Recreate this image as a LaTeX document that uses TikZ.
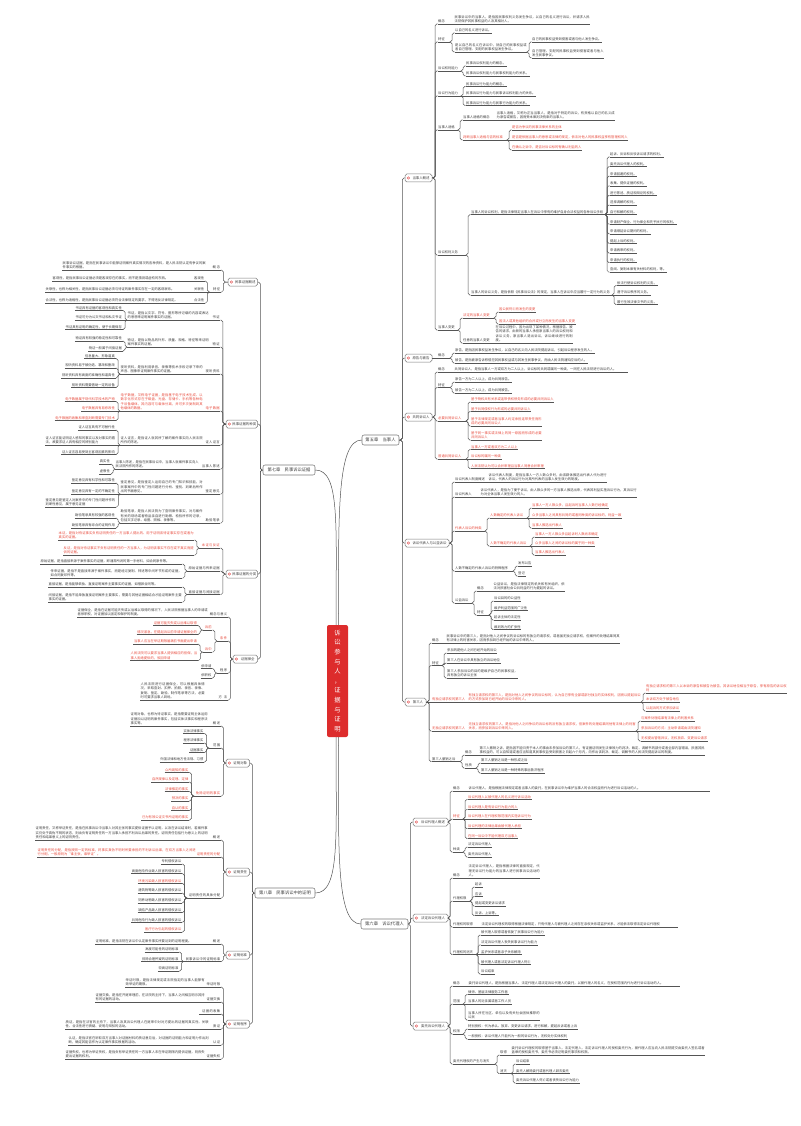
\documentclass[tikz,border=0pt]{standalone}
\usepackage{fontspec}
\setmainfont{Noto Sans CJK SC}
\XeTeXlinebreaklocale "zh"
\XeTeXlinebreakskip=0pt plus 1pt
\setlength\parindent{0pt}
\tolerance=2000
\emergencystretch=3pt
\definecolor{txt}{HTML}{3C3C3C}
\definecolor{rd}{HTML}{E84A3C}
\definecolor{lc}{HTML}{555555}
\definecolor{bd}{HTML}{7A7A7A}
\definecolor{ctrred}{HTML}{DD2C2C}
\newcommand\mmf{\fontsize{3.3}{4.5}\selectfont}
\tikzset{
 nd/.style={anchor=south west, inner xsep=0.5pt, inner ysep=0.7pt, font=\mmf},
 ul/.style={draw=lc, line width=0.5pt},
 conn/.style={draw=lc, line width=0.5pt},
 secbox/.style={draw=bd, fill=white, rounded corners=1.8pt, line width=0.5pt, minimum height=8pt, inner sep=0.5pt, font=\fontsize{3.4}{4}\selectfont, text=txt},
 chbox/.style={draw=bd, fill=white, rounded corners=2pt, line width=0.55pt, minimum height=10pt, inner sep=1pt, font=\fontsize{4.3}{5}\selectfont, text=txt},
}
% fixed extent, justified text
\newcommand\mmN[6][txt]{\pgfmathsetmacro\mmw{#4-#3-1}\node[nd,text=#1,text width=\mmw pt,align=justify] (#2) at (#3,#5) {#6};\draw[ul] (#2.south west) -- (#2.south east);}
% fixed extent, right aligned
\newcommand\mmM[6][txt]{\pgfmathsetmacro\mmw{#4-#3-1}\node[nd,text=#1,text width=\mmw pt,align=right] (#2) at (#3,#5) {#6};\draw[ul] (#2.south west) -- (#2.south east);}
% auto width from left x
\newcommand\mmP[5][txt]{\node[nd,text=#1] (#2) at (#3,#4) {#5};\draw[ul] (#2.south west) -- (#2.south east);}
% auto width ending at right x
\newcommand\mmQ[5][txt]{\node[nd,text=#1,anchor=south east] (#2) at (#3,#4) {#5};\draw[ul] (#2.south west) -- (#2.south east);}
% section box with icon
\newcommand\mmB[5]{\pgfmathsetmacro\mmw{#3-#2}\pgfmathsetmacro\mmx{(#2+#3)/2}\node[secbox,minimum width=\mmw pt] (#1) at (\mmx,#4) {\hspace*{5pt}#5};\fill[ctrred] ([xshift=3.6pt]#1.west) circle (1.5pt);\draw[white,line width=0.35pt] ([xshift=3.6pt]#1.west) ++(-0.65,-0.65) -- ++(1.3,1.3) ++(-1.3,0) -- ++(1.3,-1.3);}
% connector
\newcommand\mmC[2]{%
  \path (#1); \pgfgetlastxy{\mmax}{\mmay}%
  \path (#2); \pgfgetlastxy{\mmbx}{\mmby}%
  \pgfmathsetmacro\mmdy{abs(\mmay-\mmby)}%
  \pgfmathsetmacro\mmdx{(\mmbx>\mmax) ? -2.5 : 2.5}%
  \ifdim\mmdy pt<0.3pt\relax
    \draw[conn] (#1) -- (#2);%
  \else
    \draw[conn,rounded corners=1.8pt] (#1) -| ([xshift=\mmdx pt]#2) -- (#2);%
  \fi}
\newcommand\mmhr[2]{\foreach \mmc in {#2}{\mmC{#1.south east}{\mmc.south west}}}
\newcommand\mmhl[2]{\foreach \mmc in {#2}{\mmC{#1.south west}{\mmc.south east}}}
\newcommand\mmsr[2]{\foreach \mmc in {#2}{\mmC{#1.east}{\mmc.south west}}}
\newcommand\mmsl[2]{\foreach \mmc in {#2}{\mmC{#1.west}{\mmc.south east}}}
\newcommand\mmcr[2]{\foreach \mmc in {#2}{\mmC{#1.east}{\mmc.west}}}
\newcommand\mmcl[2]{\foreach \mmc in {#2}{\mmC{#1.west}{\mmc.east}}}

\begin{document}
\begin{tikzpicture}[x=1pt,y=-1pt]
\fill[white] (0,0) rectangle (800,1126);
\useasboundingbox (0,0) rectangle (800,1126);

% ===== centre and chapters =====
\node[fill=ctrred, rounded corners=2pt, minimum width=21pt, minimum height=112pt, inner sep=0pt, text=white, font=\fontsize{6.3}{9.6}\selectfont, align=center] (ctr) at (337.5,681) {诉\\讼\\参\\与\\人\\，\\证\\据\\与\\证\\明};
\node[chbox,minimum width=37pt] (ch5) at (380.5,440) {第五章\quad 当事人};
\node[chbox,minimum width=47pt] (ch6) at (384.5,924) {第六章\quad 诉讼代理人};
\node[chbox,minimum width=52pt] (ch7) at (289,470) {第七章\quad 民事诉讼证据};
\node[chbox,minimum width=60pt] (ch8) at (285,893) {第八章\quad 民事诉讼中的证明};
\draw[conn] ([xshift=1pt]ctr.north) .. controls +(0,-110) and +(-25,0) .. (ch5.west);
\draw[conn] ([xshift=-1.5pt]ctr.north) .. controls +(0,-100) and +(25,0) .. (ch7.east);
\draw[conn] ([xshift=-1.5pt]ctr.south) .. controls +(0,100) and +(25,0) .. (ch8.east);
\draw[conn] ([xshift=1pt]ctr.south) .. controls +(0,110) and +(-25,0) .. (ch6.west);

% ===== 第五章 =====
\mmB{s51}{405}{432}{178}{当事人概述}
\mmB{s52}{405}{432}{358}{原告与被告}
\mmB{s53}{405}{432}{417}{共同诉讼人}
\mmB{s54}{405}{449}{543}{诉讼代表人与公益诉讼}
\mmB{s55}{405}{426}{702}{第三人}

\mmN{a1}{437.5}{454}{24}{概念}
\mmN{a1t}{454}{590}{24}{民事诉讼中的当事人，是指因民事权利义务发生争议，以自己的名义进行诉讼，并请求人民法院保护其民事权益的人及其相对人。}
\mmN{a2}{437.5}{450}{42}{特征}
\mmP{a21}{454.5}{33}{以自己的名义进行诉讼。}
\mmN{a22}{454.5}{527}{52}{是以自己的名义在诉讼中，就自己的民事权益或者自己管理、支配的民事权益发生争议。}
\mmP{a221}{531.5}{42}{自己的民事权益受到侵害或者与他人发生争议。}
\mmN{a222}{531.5}{604}{58}{自己管理、支配的民事权益受到侵害或者与他人发生民事争议。}
\mmN{a3}{437.5}{461}{71}{诉讼权利能力}
\mmP{a31}{465.5}{66}{民事诉讼权利能力的概念。}
\mmP{a32}{465.5}{76}{民事诉讼权利能力与民事权利能力的关系。}
\mmN{a4}{437.5}{461}{96}{诉讼行为能力}
\mmP{a41}{465.5}{86.5}{民事诉讼行为能力的概念。}
\mmP{a42}{465.5}{96}{民事诉讼行为能力与民事诉讼权利能力的关系。}
\mmP{a43}{465.5}{105.5}{民事诉讼行为能力与民事行为能力的关系。}
\mmN{a5}{437.5}{458}{130}{当事人适格}
\mmN{a51}{462.5}{496}{120}{当事人适格的概念}
\mmN{a51t}{496}{615}{120}{当事人适格，又称为正当当事人，是指对于特定的诉讼，有资格以自己的名义成为原告或被告，因而受本案判决拘束的当事人。}
\mmN[rd]{a52}{462.5}{507}{140}{判断当事人适格与否的标准}
\mmP[rd]{a521}{511.5}{130}{是否为争议的民事法律关系的主体}
\mmP[rd]{a522}{511.5}{140}{是否是依据当事人的意思或法律的规定，依法对他人的民事权益享有管理权的人}
\mmP[rd]{a523}{511.5}{150}{在确认之诉中，是否对诉讼标的有确认利益的人}
\mmN{a6}{437.5}{466}{255}{诉讼权利义务}
\mmN{a61}{470.5}{605}{214.6}{当事人的诉讼权利，是指法律规定当事人在诉讼中享有的维护自身合法权益的各种诉讼手段}
\mmP{a611}{609.5}{157}{起诉、反诉和反驳诉讼请求的权利。}
\mmP{a612}{609.5}{166.6}{委托诉讼代理人的权利。}
\mmP{a613}{609.5}{176.2}{申请回避的权利。}
\mmP{a614}{609.5}{185.8}{收集、提供证据的权利。}
\mmP{a615}{609.5}{195.4}{进行陈述、质证和辩论的权利。}
\mmP{a616}{609.5}{205}{选择调解的权利。}
\mmP{a617}{609.5}{214.6}{自行和解的权利。}
\mmP{a618}{609.5}{224.2}{申请财产保全、行为保全和先予执行的权利。}
\mmP{a619}{609.5}{233.8}{申请顺延诉讼期间的权利。}
\mmP{a6110}{609.5}{243.4}{提起上诉的权利。}
\mmP{a6111}{609.5}{253}{申请再审的权利。}
\mmP{a6112}{609.5}{262.6}{申请执行的权利。}
\mmP{a6113}{609.5}{272.2}{查阅、复制本案有关材料的权利，等。}
\mmN{a62}{470.5}{612}{295}{当事人的诉讼义务，是指依照《民事诉讼法》的规定，当事人在诉讼中应当履行一定行为的义务}
\mmP{a621}{616.5}{285.5}{依法行使诉讼权利的义务。}
\mmP{a622}{616.5}{295}{遵守诉讼秩序的义务。}
\mmP{a623}{616.5}{304.5}{履行生效法律文书的义务。}
\mmN{a7}{437.5}{458}{330}{当事人变更}
\mmN[rd]{a71}{462.5}{494}{318}{法定的当事人变更}
\mmP[rd]{a711}{498.5}{312}{因公民死亡而发生的变更}
\mmP[rd]{a712}{498.5}{324}{因法人或其他组织的合并或分立而发生的当事人变更}
\mmN{a72}{462.5}{495}{343}{任意的当事人变更}
\mmN{a72t}{495}{573}{343}{在诉讼过程中，因为出现了某种情况，根据原告、被告的请求，由新的当事人承担原当事人的诉讼权利和诉讼义务，原当事人退出诉讼，诉讼继续进行的制度。}

\mmN{b1}{437.5}{450}{358}{概念}
\mmP{b11}{454.5}{353}{原告，是指因民事权益发生争议，以自己的名义向人民法院提起诉讼，引起诉讼程序发生的人。}
\mmP{b12}{454.5}{363}{被告，是指被原告诉称侵犯其民事权益或与其发生民事争议，而由人民法院通知应诉的人。}

\mmN{c1}{437.5}{454}{372}{概念}
\mmN{c1t}{454}{628}{372}{共同诉讼人，是指当事人一方或双方为二人以上，诉讼标的共同或属同一种类，一同在人民法院进行诉讼的人。}
\mmN{c2}{437.5}{450}{387.5}{特征}
\mmP{c21}{454.5}{382}{原告一方为二人以上，成为共同原告。}
\mmP{c22}{454.5}{393}{被告一方为二人以上，成为共同被告。}
\mmN[rd]{c3}{437.5}{466}{421}{必要共同诉讼人}
\mmP[rd]{c31}{470.5}{402}{基于物权共有关系或连带债权债务形成的必要共同诉讼人}
\mmP[rd]{c32}{470.5}{411.5}{基于共同侵权行为形成的必要共同诉讼人}
\mmN[rd]{c33}{470.5}{542}{426}{基于法律规定或者当事人约定承担连带责任而形成的必要共同诉讼人}
\mmN[rd]{c34}{470.5}{542}{440}{基于同一事实或法律上的同一原因而形成的必要共同诉讼人}
\mmN[rd]{c4}{437.5}{466}{459}{普通共同诉讼人}
\mmP[rd]{c41}{470.5}{449.5}{当事人一方或者双方为二人以上}
\mmP[rd]{c42}{470.5}{459}{诉讼标的属同一种类}
\mmP[rd]{c43}{470.5}{468.5}{人民法院认为可以合并审理且当事人同意合并审理}

\mmN{d1}{454.5}{488}{482}{诉讼代表人制度概述}
\mmN{d1t}{488}{607}{482}{诉讼代表人制度，是指当事人一方人数众多时，由该群体推选出代表人代为进行诉讼，代表人的诉讼行为对其所代表的当事人发生效力的制度。}
\mmN{d2}{454.5}{480}{497}{诉讼代表人}
\mmN{d2t}{480}{637}{497}{诉讼代表人，是指为了便于诉讼，由人数众多的一方当事人推选出来，代表其利益实施诉讼行为，其诉讼行为对全体当事人发生效力的人。}
\mmN[rd]{d3}{454.5}{485}{531}{代表人诉讼的种类}
\mmN[rd]{d31}{489.5}{527}{518}{人数确定的代表人诉讼}
\mmP[rd]{d311}{531.5}{508}{当事人一方人数众多，且起诉时当事人人数已经确定}
\mmP[rd]{d312}{531.5}{518}{众多当事人之间具有共同的或者同种类的诉讼标的，利益一致}
\mmP[rd]{d313}{531.5}{528}{当事人推选出代表人}
\mmN[rd]{d32}{489.5}{530}{546}{人数不确定的代表人诉讼}
\mmP[rd]{d321}{534.5}{537}{当事人一方人数众多且起诉时人数尚未确定}
\mmP[rd]{d322}{534.5}{546}{众多当事人之间的诉讼标的属于同一种类}
\mmP[rd]{d323}{534.5}{555}{当事人推选出代表人}
\mmN{d4}{454.5}{513}{571}{人数不确定的代表人诉讼的特殊程序}
\mmP{d41}{517.5}{566}{发布公告}
\mmP{d42}{517.5}{576}{登记}
\mmN{d5}{454.5}{472}{603}{公益诉讼}
\mmN{d51}{476.5}{493}{591}{概念}
\mmN{d51t}{493}{565}{591}{公益诉讼，是指法律规定的机关和有关组织，依法对损害社会公共利益的行为提起的诉讼。}
\mmN{d52}{476.5}{489}{615}{特征}
\mmP{d521}{493.5}{601}{诉讼目的的公益性}
\mmP{d522}{493.5}{610.5}{维护利益范围的广泛性}
\mmP{d523}{493.5}{620}{起诉主体的法定性}
\mmP{d524}{493.5}{629.5}{裁判效力的扩张性}

\mmN{f1}{431.5}{446}{643}{概念}
\mmN{f1t}{446}{620}{643}{民事诉讼中的第三人，是指对他人之间争议的诉讼标的有独立的请求权，或者虽无独立请求权，但案件的处理结果同其有法律上的利害关系，因而参加到已经开始的诉讼中来的人。}
\mmN{f2}{431.5}{442}{665.5}{特征}
\mmP{f21}{446.5}{653}{参加的是他人之间已经开始的诉讼}
\mmP{f22}{446.5}{663}{第三人在诉讼中具有独立的诉讼地位}
\mmN{f23}{446.5}{518}{678}{第三人参加诉讼的目的是维护自己的民事权益，具有独立的诉讼主张}
\mmN[rd]{f3}{431.5}{468}{702}{有独立请求权的第三人}
\mmN[rd]{f3t}{468}{641}{702}{有独立请求权的第三人，是指对他人之间争议的诉讼标的，认为自己享有全部或部分独立的实体权利，因而以提起诉讼的方式参加到已经开始的诉讼中来的人。}
\mmN[rd]{f31}{645.5}{787}{693}{有独立请求权的第三人以本诉的原告和被告为被告，其诉讼地位相当于原告，享有原告的诉讼权利}
\mmP[rd]{f32}{645.5}{702}{本诉双方处于被告地位}
\mmP[rd]{f33}{645.5}{711}{以起诉的方式参加诉讼}
\mmN[rd]{f4}{431.5}{468}{731}{无独立请求权的第三人}
\mmN[rd]{f4t}{468}{636}{731}{无独立请求权的第三人，是指对他人之间争议的诉讼标的没有独立请求权，但案件的处理结果同他有法律上的利害关系，而参加到诉讼中来的人。}
\mmP[rd]{f41}{640.5}{721}{与案件处理结果有法律上的利害关系}
\mmP[rd]{f42}{640.5}{731}{参加诉讼的方式：主动申请或由法院通知}
\mmP[rd]{f43}{640.5}{741}{无权提出管辖异议，无权放弃、变更诉讼请求}
\mmN{f5}{431.5}{460}{761.5}{第三人撤销之诉}
\mmN{f51}{464.5}{479}{755}{概念}
\mmN{f51t}{479}{705}{755}{第三人撤销之诉，是指因不能归责于本人的事由未参加诉讼的第三人，有证据证明发生法律效力的判决、裁定、调解书的部分或者全部内容错误，损害其民事权益的，可以自知道或者应当知道其民事权益受到损害之日起六个月内，向作出该判决、裁定、调解书的人民法院提起诉讼的制度。}
\mmN{f52}{464.5}{476}{768}{性质}
\mmP{f521}{480.5}{763}{第三人撤销之诉是一种形成之诉}
\mmP{f522}{480.5}{773}{第三人撤销之诉是一种特殊的事后救济程序}

% ===== 第六章 =====
\mmB{s61}{413}{448}{822}{诉讼代理人概述}
\mmB{s62}{413}{448}{918}{法定诉讼代理人}
\mmB{s63}{413}{448}{1026}{委托诉讼代理人}

\mmN{g1}{452.5}{468}{791}{概念}
\mmN{g1t}{468}{710}{791}{诉讼代理人，是指根据法律规定或者当事人的委托，在民事诉讼中为维护当事人的合法权益而代为进行诉讼活动的人。}
\mmN[rd]{g2}{452.5}{463}{819}{特征}
\mmP[rd]{g21}{467.5}{799.5}{诉讼代理人以被代理人的名义进行诉讼活动}
\mmP[rd]{g22}{467.5}{809.3}{诉讼代理人是有诉讼行为能力的人}
\mmP[rd]{g23}{467.5}{819}{诉讼代理人在代理权限范围内实施诉讼行为}
\mmP[rd]{g24}{467.5}{828.7}{诉讼代理的法律后果由被代理人承担}
\mmP[rd]{g25}{467.5}{838.5}{在同一诉讼中不能代理双方当事人}
\mmN{g3}{452.5}{463}{852}{种类}
\mmP{g31}{467.5}{847}{法定诉讼代理人}
\mmP{g32}{467.5}{857}{委托诉讼代理人}

\mmN{h1}{452.5}{468}{878}{概念}
\mmN{h1t}{468}{540}{878}{法定诉讼代理人，是指根据法律的直接规定，代理无诉讼行为能力的当事人进行民事诉讼活动的人。}
\mmN{h2}{452.5}{470}{901}{代理权限}
\mmP{h21}{474.5}{887}{起诉}
\mmP{h22}{474.5}{896.5}{应诉}
\mmP{h23}{474.5}{906}{提起或变更诉讼请求}
\mmP{h24}{474.5}{915.5}{反诉、上诉等。}
\mmN{h3}{452.5}{481}{927}{代理权的取得}
\mmN{h3t}{481}{678}{927}{法定诉讼代理权的取得根据法律规定，只有代理人与被代理人之间存在亲权关系或监护关系，才能依法取得法定诉讼代理权}
\mmN{h4}{452.5}{476}{954.5}{代理权的消灭}
\mmP{h41}{480.5}{935}{被代理人取得或者恢复了民事诉讼行为能力}
\mmP{h42}{480.5}{944.8}{法定诉讼代理人丧失民事诉讼行为能力}
\mmP{h43}{480.5}{954.5}{监护关系或者亲子关系解除}
\mmP{h44}{480.5}{964.3}{被代理人或者法定诉讼代理人死亡}
\mmP{h45}{480.5}{974}{诉讼结束}

\mmN{i1}{452.5}{468}{986}{概念}
\mmN{i1t}{468}{680}{986}{委托诉讼代理人，是指根据当事人、法定代理人或法定诉讼代理人的委托，以被代理人的名义，在授权范围内代为进行诉讼活动的人。}
\mmN{i2}{452.5}{463}{1004}{范围}
\mmP{i21}{467.5}{994.5}{律师、基层法律服务工作者}
\mmP{i22}{467.5}{1004}{当事人的近亲属或者工作人员}
\mmN{i23}{467.5}{540}{1020}{当事人所在社区、单位以及有关社会团体推荐的公民}
\mmN{i3}{452.5}{463}{1034}{权限}
\mmP{i31}{467.5}{1029}{特别授权：代为承认、放弃、变更诉讼请求，进行和解，提起反诉或者上诉}
\mmP{i32}{467.5}{1039}{一般授权：诉讼代理人只能代为一般的诉讼行为，无权处分实体权利}
\mmN{i4}{452.5}{495}{1064}{委托代理权的产生与消灭}
\mmN{i41}{499.5}{511}{1055}{取得}
\mmN{i41t}{511}{705}{1055}{委托诉讼代理权的取得基于当事人、法定代理人、法定诉讼代理人的授权委托行为，被代理人应当向人民法院提交由委托人签名或者盖章的授权委托书，委托书必须记明委托事项和权限。}
\mmN{i42}{499.5}{511}{1073.5}{消灭}
\mmP{i421}{515.5}{1064}{诉讼结束}
\mmP{i422}{515.5}{1073.5}{委托人解除委托或者代理人辞去委托}
\mmP{i423}{515.5}{1083}{委托诉讼代理人死亡或者丧失诉讼行为能力}

% ===== 第七章 =====
\mmB{s71}{228}{257.5}{282}{民事证据概述}
\mmB{s72}{226}{257.5}{424}{民事证据的种类}
\mmB{s73}{226}{257.5}{574}{民事证据的分类}
\mmB{s74}{233}{257.5}{659}{证据保全}

\mmM{j1}{206}{220.5}{270}{概念}
\mmN{j1t}{62}{206}{270}{民事诉讼证据，是指在民事诉讼中能够证明案件真实情况的各种资料，是人民法院认定有争议的案件事实的根据。}
\mmM{j2}{209}{220.5}{292}{特征}
\mmM{j21}{193}{204.5}{281}{客观性}
\mmN{j21t}{52}{193}{281}{客观性，是指民事诉讼证据必须是客观存在的事实，而不是猜测或虚构的东西。}
\mmM{j22}{193}{204.5}{292}{关联性}
\mmN{j22t}{45}{193}{292}{关联性，也称为相关性，是指民事诉讼证据必须与待证的案件事实存在一定的客观联系。}
\mmM{j23}{193}{204.5}{303}{合法性}
\mmN{j23t}{45}{193}{303}{合法性，也称为适格性，是指民事诉讼证据必须符合法律规定的要求，不得违反法律规定。}

\mmM{k1}{209}{220}{320}{书证}
\mmN{k1t}{127}{209}{320}{书证，是指以文字、符号、图形等所记载的内容或表达的思想来证明案件事实的证据。}
\mmQ{k11}{122.5}{310.5}{书证具有证据的客观性和真实性}
\mmQ{k12}{122.5}{320}{书证可分为公文书证和私文书证}
\mmQ{k13}{122.5}{329.5}{书证具有证明的确定性，便于长期保存}
\mmM{k2}{209}{220}{347}{物证}
\mmN{k2t}{127}{209}{347}{物证，是指以物品的外形、质量、规格、特征等来证明案件事实的证据。}
\mmQ{k21}{122.5}{341}{物证具有较强的稳定性和可靠性}
\mmQ{k22}{122.5}{351}{物证一般属于间接证据}
\mmM{k3}{203}{220}{374}{视听资料}
\mmN{k3t}{120}{203}{374}{视听资料，是指利用录音、录像等技术手段记录下来的声音、图像来证明案件事实的证据。}
\mmQ{k31}{115.5}{358.5}{信息量大、形象逼真}
\mmQ{k32}{115.5}{368}{视听资料易于被伪造、篡改和删改}
\mmQ{k33}{115.5}{378}{视听资料具有高度的准确性和逼真性}
\mmQ{k34}{115.5}{387.5}{视听资料需要借助一定的设备}
\mmM[rd]{k4}{203}{220}{411}{电子数据}
\mmN[rd]{k4t}{120}{203}{411}{电子数据，又称电子证据，是指基于电子技术生成、以数字化形式存在于磁盘、光盘、存储卡、手机等各种电子设备载体，其内容可与载体分离，并可多次复制到其他载体的数据。}
\mmQ[rd]{k41}{115.5}{401.5}{电子数据属于现代科学技术的产物}
\mmQ[rd]{k42}{115.5}{411}{电子数据具有易修改性}
\mmQ[rd]{k43}{115.5}{420.5}{电子数据的收集和审查判断需要专门技术}
\mmM{k5}{203}{220}{445}{证人证言}
\mmN{k5t}{120}{203}{445}{证人证言，是指证人就其所了解的案件事实向人民法院所作的陈述。}
\mmQ{k51}{115.5}{430}{证人证言具有不可替代性}
\mmN{k52}{45}{115.5}{445}{证人证言能证明证人感知的事实以及对事实的看法，故要求证人具有相应的辨别能力}
\mmQ{k53}{115.5}{454.5}{证人证言容易受到主客观因素的影响}
\mmM{k6}{199}{220}{469}{当事人陈述}
\mmN{k6t}{115}{199}{469}{当事人陈述，是指在民事诉讼中，当事人就案件事实向人民法院所作的陈述。}
\mmQ{k61}{110.5}{464}{真实性}
\mmQ{k62}{110.5}{474}{虚假性}
\mmM{k7}{203}{220}{494}{鉴定意见}
\mmN{k7t}{120}{203}{494}{鉴定意见，是指鉴定人运用自己的专门知识和技能，对民事案件中的专门性问题进行分析、鉴别、判断后所作出的书面意见。}
\mmQ{k71}{115.5}{483}{鉴定意见具有科学性和可靠性}
\mmQ{k72}{115.5}{494}{鉴定意见具有一定的不确定性}
\mmN{k73}{45}{115.5}{507}{鉴定意见是鉴定人对案件中的专门性问题所作的判断性意见，属于意见证据}
\mmM{k8}{203}{220}{523}{勘验笔录}
\mmN{k8t}{120}{203}{523}{勘验笔录，是指人民法院为了查明案件事实，对与案件有关的现场或者物品亲自进行勘察、检验所作的记录，包括文字记录、绘图、照相、录像等。}
\mmQ{k81}{115.5}{518}{勘验笔录具有较强的客观性}
\mmQ{k82}{115.5}{528}{勘验笔录具有综合的证明作用}

\mmM[rd]{l1}{199}{220}{548}{本证与反证}
\mmN[rd]{l11}{58}{194}{540}{本证，是指对待证事实负有证明责任的一方当事人提出的、用于证明该待证事实存在或者为真实的证据。}
\mmN[rd]{l12}{63}{194}{555}{反证，是指对待证事实不负有证明责任的一方当事人，为证明该事实不存在或不真实而提供的证据。}
\mmM{l2}{187}{220}{571}{原始证据与传来证据}
\mmN{l21}{40}{182}{564}{原始证据，是指直接来源于案件事实的证据，即通常所说的第一手材料，如合同原件等。}
\mmN{l22}{50}{182}{578}{传来证据，是指不是直接来源于案件事实，而是经过复制、转述等中间环节形成的证据，如合同复印件等。}
\mmM{l3}{187}{220}{594.5}{直接证据与间接证据}
\mmN{l31}{48}{182}{587}{直接证据，是指能够单独、直接证明案件主要事实的证据，如借款合同等。}
\mmN{l32}{48}{182}{602}{间接证据，是指不能单独直接证明案件主要事实，需要与其他证据相结合才能证明案件主要事实的证据。}

\mmM{m1}{208}{227.5}{617}{概念与意义}
\mmN{m1t}{77}{208}{617}{证据保全，是指在证据可能灭失或以后难以取得的情况下，人民法院根据当事人的申请或者依职权，对证据加以固定和保护的制度。}
\mmM[rd]{m2}{217}{227.5}{641}{条件}
\mmM[rd]{m21}{203}{212}{630}{诉前}
\mmQ[rd]{m211}{197.5}{625.5}{证据可能灭失或以后难以取得}
\mmQ[rd]{m212}{197.5}{634.5}{情况紧急，在提起诉讼前申请证据保全的}
\mmM[rd]{m22}{203}{212}{652}{诉中}
\mmQ[rd]{m221}{197.5}{644}{当事人应当在举证期限届满前书面提出申请}
\mmN[rd]{m222}{130}{197.5}{660.5}{人民法院可以要求当事人提供相应的担保，当事人拒绝提供的，驳回申请}
\mmM{m3}{217}{227.5}{673}{程序}
\mmQ{m31}{212}{668.5}{依申请}
\mmQ{m32}{212}{678}{依职权}
\mmM{m4}{205}{227.5}{700}{方法}
\mmN{m4t}{140}{205}{700}{人民法院进行证据保全，可以根据具体情况，采取查封、扣押、拍照、录音、录像、复制、鉴定、勘验、制作笔录等方法，必要时可要求当事人到场。}

% ===== 第八章 =====
\mmB{s81}{226}{249.5}{763}{证明对象}
\mmB{s82}{226}{249.5}{872}{证明责任}
\mmB{s83}{226}{249.5}{955}{证明标准}
\mmB{s84}{226}{249.5}{1024}{证明程序}

\mmM{n1}{208}{220.5}{726}{概述}
\mmN{n1t}{130}{208}{726}{证明对象，也称为待证事实，是指需要证明主体运用证据加以证明的案件事实，包括实体法事实和程序法事实等。}
\mmM{n2}{209}{220.5}{748}{范围}
\mmQ{n21}{204}{733.5}{实体法律事实}
\mmQ{n22}{204}{743}{程序法律事实}
\mmQ{n23}{204}{752.5}{证据事实}
\mmQ{n24}{204}{762}{外国法律和地方性法规、习惯}
\mmM[rd]{n3}{194}{220.5}{796}{免除证明的事实}
\mmQ[rd]{n31}{189}{772.5}{众所周知的事实}
\mmQ[rd]{n32}{189}{782}{自然规律以及定理、定律}
\mmQ[rd]{n33}{189}{791.5}{法律推定的事实}
\mmQ[rd]{n34}{189}{801}{预决的事实}
\mmQ[rd]{n35}{189}{810.5}{自认的事实}
\mmQ[rd]{n36}{189}{820}{已为有效公证文书所证明的事实}

\mmM{o1}{208}{220.5}{840}{概述}
\mmN{o1t}{35}{208}{840}{证明责任，又称举证责任，是指在民事诉讼中当事人对其主张的事实提供证据予以证明，以及在诉讼结束时，若案件事实仍处于真伪不明的状态，则由负有证明责任的一方当事人承担不利诉讼后果的责任。证明责任包括行为意义上的证明责任和结果意义上的证明责任。}
\mmM[rd]{o2}{196}{220.5}{857}{证明责任的分配}
\mmN[rd]{o2t}{37}{196}{857}{证明责任的分配，是指按照一定的标准，将事实真伪不明时所要承担的不利诉讼后果，在双方当事人之间进行分配。一般原则为“谁主张，谁举证”。}
\mmM{o3}{187}{220.5}{898}{证明责任的具体分配}
\mmQ{o31}{182}{864}{专利侵权诉讼}
\mmQ{o32}{182}{873.7}{高度危险作业致人损害的侵权诉讼}
\mmQ[rd]{o33}{182}{883.4}{环境污染致人损害的侵权诉讼}
\mmQ{o34}{182}{893.1}{建筑物等致人损害的侵权诉讼}
\mmQ{o35}{182}{902.8}{饲养动物致人损害的侵权诉讼}
\mmQ{o36}{182}{912.5}{缺陷产品致人损害的侵权诉讼}
\mmQ{o37}{182}{922.2}{共同危险行为致人损害的侵权诉讼}
\mmQ[rd]{o38}{182}{932}{医疗行为引起的侵权诉讼}

\mmM{p1}{208}{220.5}{944}{概述}
\mmN{p1t}{95}{208}{944}{证明标准，是指法院在诉讼中认定案件事实所要达到的证明程度。}
\mmM{p2}{184}{220.5}{961.5}{民事诉讼中的证明标准}
\mmQ{p21}{179}{952}{高度可能性的证明标准}
\mmQ{p22}{179}{961.5}{排除合理怀疑的证明标准}
\mmQ{p23}{179}{971}{较高证明标准}

\mmM{q1}{205}{220.5}{987}{举证时限}
\mmN{q1t}{125}{205}{987}{举证时限，是指法律规定或法院指定的当事人能够有效举证的期限。}
\mmM{q2}{205}{220.5}{1002}{证据交换}
\mmN{q2t}{95}{205}{1002}{证据交换，是指在开庭审理前，在法院的主持下，当事人之间相互明示其持有的证据的活动。}
\mmM{q3}{199}{220.5}{1014}{证据的收集}
\mmM{q4}{209}{220.5}{1029}{质证}
\mmN{q4t}{65}{209}{1029}{质证，是指在法官的主持下，当事人及其诉讼代理人在庭审中对对方提出的证据的真实性、关联性、合法性进行质疑、说明与辩驳的活动。}
\mmM{q5}{209}{220.5}{1045}{认证}
\mmN{q5t}{68}{209}{1045}{认证，是指法官在听取双方当事人对证据材料的质证意见后，对证据的证明能力和证明力作出判断，确定其能否作为认定案件事实根据的活动。}
\mmM{q6}{205}{220.5}{1059}{证据失权}
\mmN{q6t}{65}{205}{1059}{证据失权，也称为举证失权，是指负有举证责任的一方当事人未在举证期限内提供证据，则丧失提出证据的权利。}

% ===== connectors =====
\mmcr{ch5}{s51,s52,s53,s54,s55}
\mmcr{ch6}{s61,s62,s63}
\mmcl{ch7}{s71,s72,s73,s74}
\mmcl{ch8}{s81,s82,s83,s84}

\mmsr{s51}{a1,a2,a3,a4,a5,a6,a7}
\mmhr{a1}{a1t}
\mmhr{a2}{a21,a22}
\mmhr{a22}{a221,a222}
\mmhr{a3}{a31,a32}
\mmhr{a4}{a41,a42,a43}
\mmhr{a5}{a51,a52}
\mmhr{a51}{a51t}
\mmhr{a52}{a521,a522,a523}
\mmhr{a6}{a61,a62}
\mmhr{a61}{a611,a612,a613,a614,a615,a616,a617,a618,a619,a6110,a6111,a6112,a6113}
\mmhr{a62}{a621,a622,a623}
\mmhr{a7}{a71,a72}
\mmhr{a71}{a711,a712}
\mmhr{a72}{a72t}
\mmsr{s52}{b1}
\mmhr{b1}{b11,b12}
\mmsr{s53}{c1,c2,c3,c4}
\mmhr{c1}{c1t}
\mmhr{c2}{c21,c22}
\mmhr{c3}{c31,c32,c33,c34}
\mmhr{c4}{c41,c42,c43}
\mmsr{s54}{d1,d2,d3,d4,d5}
\mmhr{d1}{d1t}
\mmhr{d2}{d2t}
\mmhr{d3}{d31,d32}
\mmhr{d31}{d311,d312,d313}
\mmhr{d32}{d321,d322,d323}
\mmhr{d4}{d41,d42}
\mmhr{d5}{d51,d52}
\mmhr{d51}{d51t}
\mmhr{d52}{d521,d522,d523,d524}
\mmsr{s55}{f1,f2,f3,f4,f5}
\mmhr{f1}{f1t}
\mmhr{f2}{f21,f22,f23}
\mmhr{f3}{f3t}
\mmhr{f3t}{f31,f32,f33}
\mmhr{f4}{f4t}
\mmhr{f4t}{f41,f42,f43}
\mmhr{f5}{f51,f52}
\mmhr{f51}{f51t}
\mmhr{f52}{f521,f522}

\mmsr{s61}{g1,g2,g3}
\mmhr{g1}{g1t}
\mmhr{g2}{g21,g22,g23,g24,g25}
\mmhr{g3}{g31,g32}
\mmsr{s62}{h1,h2,h3,h4}
\mmhr{h1}{h1t}
\mmhr{h2}{h21,h22,h23,h24}
\mmhr{h3}{h3t}
\mmhr{h4}{h41,h42,h43,h44,h45}
\mmsr{s63}{i1,i2,i3,i4}
\mmhr{i1}{i1t}
\mmhr{i2}{i21,i22,i23}
\mmhr{i3}{i31,i32}
\mmhr{i4}{i41,i42}
\mmhr{i41}{i41t}
\mmhr{i42}{i421,i422,i423}

\mmsl{s71}{j1,j2}
\mmhl{j1}{j1t}
\mmhl{j2}{j21,j22,j23}
\mmhl{j21}{j21t}
\mmhl{j22}{j22t}
\mmhl{j23}{j23t}
\mmsl{s72}{k1,k2,k3,k4,k5,k6,k7,k8}
\mmhl{k1}{k1t}
\mmhl{k1t}{k11,k12,k13}
\mmhl{k2}{k2t}
\mmhl{k2t}{k21,k22}
\mmhl{k3}{k3t}
\mmhl{k3t}{k31,k32,k33,k34}
\mmhl{k4}{k4t}
\mmhl{k4t}{k41,k42,k43}
\mmhl{k5}{k5t}
\mmhl{k5t}{k51,k52,k53}
\mmhl{k6}{k6t}
\mmhl{k6t}{k61,k62}
\mmhl{k7}{k7t}
\mmhl{k7t}{k71,k72,k73}
\mmhl{k8}{k8t}
\mmhl{k8t}{k81,k82}
\mmsl{s73}{l1,l2,l3}
\mmhl{l1}{l11,l12}
\mmhl{l2}{l21,l22}
\mmhl{l3}{l31,l32}
\mmsl{s74}{m1,m2,m3,m4}
\mmhl{m1}{m1t}
\mmhl{m2}{m21,m22}
\mmhl{m21}{m211,m212}
\mmhl{m22}{m221,m222}
\mmhl{m3}{m31,m32}
\mmhl{m4}{m4t}

\mmsl{s81}{n1,n2,n3}
\mmhl{n1}{n1t}
\mmhl{n2}{n21,n22,n23,n24}
\mmhl{n3}{n31,n32,n33,n34,n35,n36}
\mmsl{s82}{o1,o2,o3}
\mmhl{o1}{o1t}
\mmhl{o2}{o2t}
\mmhl{o3}{o31,o32,o33,o34,o35,o36,o37,o38}
\mmsl{s83}{p1,p2}
\mmhl{p1}{p1t}
\mmhl{p2}{p21,p22,p23}
\mmsl{s84}{q1,q2,q3,q4,q5,q6}
\mmhl{q1}{q1t}
\mmhl{q2}{q2t}
\mmhl{q4}{q4t}
\mmhl{q5}{q5t}
\mmhl{q6}{q6t}
\end{tikzpicture}
\end{document}
